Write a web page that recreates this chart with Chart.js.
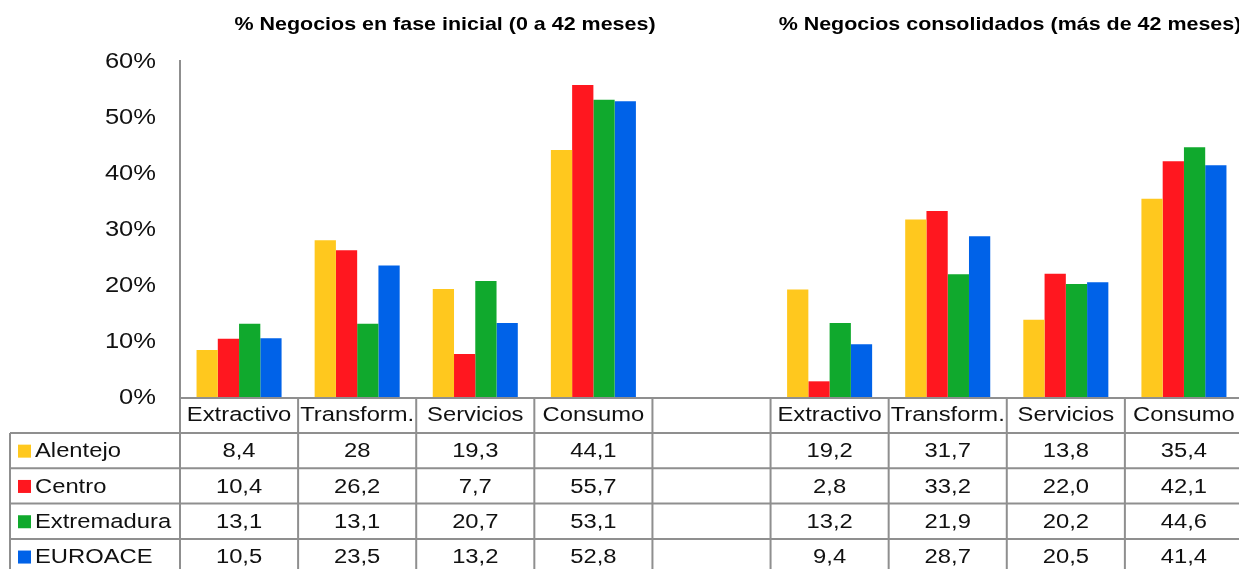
<!DOCTYPE html>
<html>
<head>
<meta charset="utf-8">
<script src="https://cdn.jsdelivr.net/npm/chart.js@4"></script>
<style>
  body { margin: 0; background: #fff; overflow: hidden; }
  #wrap { width: 1243px; height: 569px; position: relative; }
</style>
</head>
<body>
<div id="wrap"><canvas id="grafico"></canvas></div>
<script>
    // datos (tal como aparecen en la tabla)
    const categorias = ['Extractivo', 'Transform.', 'Servicios', 'Consumo', '', 'Extractivo', 'Transform.', 'Servicios', 'Consumo'];
    const alentejo    = ['8,4', '28', '19,3', '44,1', null, '19,2', '31,7', '13,8', '35,4'];
    const centro      = ['10,4', '26,2', '7,7', '55,7', null, '2,8', '33,2', '22,0', '42,1'];
    const extremadura = ['13,1', '13,1', '20,7', '53,1', null, '13,2', '21,9', '20,2', '44,6'];
    const euroace     = ['10,5', '23,5', '13,2', '52,8', null, '9,4', '28,7', '20,5', '41,4'];
    const titulos = ['% Negocios en fase inicial (0 a 42 meses)', '% Negocios consolidados (más de 42 meses)'];
    const ticksY = [0, 10, 20, 30, 40, 50, 60];

    const series = [
      { nome: 'Alentejo', textos: alentejo, cor: '#FFC81E' },
      { nome: 'Centro', textos: centro, cor: '#FF171F' },
      { nome: 'Extremadura', textos: extremadura, cor: '#10A92D' },
      { nome: 'EUROACE', textos: euroace, cor: '#0062E8' }
    ];

    const num = t => t === null ? null : parseFloat(t.replace(',', '.'));

    const LINHA = '#8f8f8f';
    const FONTE = '"Liberation Sans", Arial, sans-serif';
    const ESTICA = 1.16; // o texto da imagem original está um pouco esticado na horizontal

    function texto(ctx, str, x, y, align) {
      ctx.save();
      ctx.translate(x, y);
      ctx.scale(ESTICA, 1);
      ctx.textAlign = align;
      ctx.fillText(str, 0, 0);
      ctx.restore();
    }

    // desenha títulos, rótulos do eixo y e a tabela de dados
    const tabelaPlugin = {
      id: 'tabela',
      afterDraw(chart) {
        const ctx = chart.ctx;
        const x = chart.scales.x;
        const yS = chart.scales.y;
        const area = chart.chartArea;
        const n = categorias.length;
        const larg = area.width / n;
        const topo = area.bottom + 1;
        const altCab = 35, altLin = 35.3;
        const esq = 10;

        ctx.save();
        ctx.textBaseline = 'middle';
        // títulos
        ctx.fillStyle = '#000';
        ctx.font = 'bold 18.5px ' + FONTE;
        texto(ctx, titulos[0], 445, 25, 'center');
        texto(ctx, titulos[1], 1010, 25, 'center');

        // rótulos do eixo y
        ctx.fillStyle = '#111';
        ctx.font = '22px ' + FONTE;
        ticksY.forEach(v => texto(ctx, v + '%', 156, yS.getPixelForValue(v) + 1, 'right'));

        ctx.strokeStyle = LINHA;
        ctx.lineWidth = 2;
        ctx.beginPath();
        ctx.moveTo(area.left, topo);
        ctx.lineTo(area.right, topo);
        for (let r = 0; r <= series.length; r++) {
          const y = topo + altCab + r * altLin;
          ctx.moveTo(esq, y);
          ctx.lineTo(area.right, y);
        }
        ctx.moveTo(esq, topo + altCab);
        ctx.lineTo(esq, chart.height);
        for (let i = 0; i <= n; i++) {
          const xv = area.left + i * larg;
          ctx.moveTo(xv, topo);
          ctx.lineTo(xv, chart.height);
        }
        ctx.stroke();

        // cabeçalho
        ctx.fillStyle = '#111';
        ctx.font = '20.5px ' + FONTE;
        categorias.forEach((c, i) => {
          texto(ctx, c, x.getPixelForValue(i), topo + altCab / 2, 'center');
        });

        // linhas de valores
        series.forEach((s, r) => {
          const yc = topo + altCab + r * altLin + altLin / 2 + 1;
          ctx.fillStyle = s.cor;
          ctx.fillRect(18, yc - 7, 13, 13);
          ctx.fillStyle = '#111';
          texto(ctx, s.nome, 35, yc, 'left');
          s.textos.forEach((t, i) => {
            if (t !== null) texto(ctx, t, x.getPixelForValue(i), yc, 'center');
          });
        });
        ctx.restore();
      }
    };

    const ctx = document.getElementById('grafico').getContext('2d');
    const chart = new Chart(ctx, {
      type: 'bar',
      data: {
        labels: categorias,
        datasets: series.map(s => ({
          label: s.nome,
          data: s.textos.map(num),
          backgroundColor: s.cor,
          borderWidth: 0
        }))
      },
      options: {
        responsive: true,
        maintainAspectRatio: false,
        animation: false,
        layout: { padding: { top: 61, bottom: 172, left: 0, right: 0 } },
        plugins: { legend: { display: false }, tooltip: { enabled: false } },
        datasets: { bar: { barPercentage: 1, categoryPercentage: 0.72 } },
        scales: {
          x: { display: false },
          y: {
            min: 0, max: 60,
            afterFit(scale) { scale.width = 180; },
            afterBuildTicks(scale) { scale.ticks = ticksY.map(v => ({ value: v })); },
            grid: { display: false, drawTicks: false },
            border: { color: LINHA, width: 2 },
            ticks: { display: false }
          }
        }
      },
      plugins: [tabelaPlugin]
    });
</script>
</body>
</html>
